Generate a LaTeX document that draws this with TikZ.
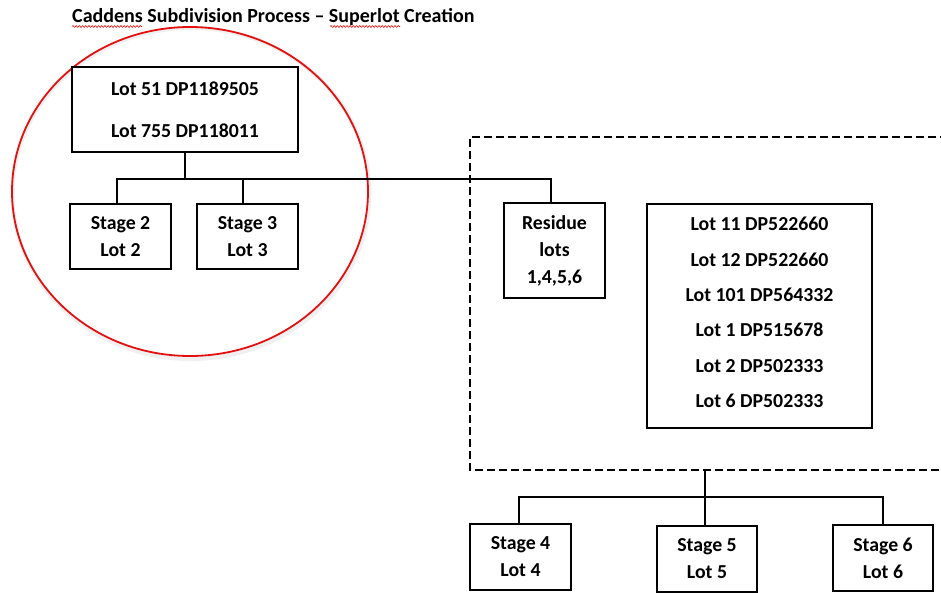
\documentclass[tikz,border=0pt]{standalone}
\usepackage{fontspec}
\setmainfont{Carlito}
\usetikzlibrary{shapes.geometric,decorations.pathmorphing}
\definecolor{circred}{RGB}{228,16,16}
\tikzset{
  box/.style={draw=black, line width=1.8pt, fill=white, inner sep=0pt, align=center,
    font=\bfseries\fontsize{19.8}{27}\selectfont},
  conn/.style={draw=black, line width=1.6pt},
  dashframe/.style={draw=black, line width=2.6pt, dash pattern=on 8pt off 4pt},
  spell/.style={draw=circred, line width=0.6pt, decorate,
    decoration={snake, amplitude=0.9pt, segment length=3.2pt}},
}
\begin{document}
\begin{tikzpicture}[x=1pt,y=-1pt]
\useasboundingbox (0,0) rectangle (941,592);
\fill[white] (0,0) rectangle (941,592);
% title
\node[anchor=base west, inner sep=0pt, font=\bfseries\fontsize{20}{22}\selectfont] (title) at (72,22.5)
  {Caddens Subdivision Process -- Superlot Creation};
\draw[spell] (72,26.5) -- (142,26.5);
\draw[spell] (330,26.5) -- (400,26.5);
% red circle with faint shadow
\node[ellipse, draw=black!6, line width=4pt, minimum width=357pt, minimum height=331pt, inner sep=0pt] (shadow) at (191,193.5) {};
\node[ellipse, draw=circred, line width=1.8pt, minimum width=356pt, minimum height=329pt, inner sep=0pt] (circ) at (190,191.5) {};
% dashed frame (right side runs off the picture)
\coordinate (dtr) at (948,137);
\coordinate (dtl) at (470,137);
\coordinate (dbl) at (470,470);
\coordinate (dbr) at (948,470);
\coordinate (dbot) at (705,470);
\draw[dashframe] (dtr) -- (dtl) -- (dbl) -- (dbr);
% boxes
\node[box, minimum width=226pt, minimum height=85pt, font=\bfseries\fontsize{19.8}{42}\selectfont] (top) at (185,109.5)
  {Lot 51 DP1189505\\Lot 755 DP118011};
\node[box, minimum width=101pt, minimum height=65pt] (s2) at (120.5,236.5) {Stage 2\\Lot 2};
\node[box, minimum width=101pt, minimum height=65pt] (s3) at (247.5,236.5) {Stage 3\\Lot 3};
\node[box, minimum width=101pt, minimum height=95pt] (res) at (554.5,250.5) {Residue\\lots\\1,4,5,6};
\node[box, minimum width=225pt, minimum height=224pt] (list) at (759.5,316) {};
\node[align=center, inner sep=0pt, font=\bfseries\fontsize{19.8}{35.4}\selectfont] (listtxt) at ([yshift=3.5pt]list.center)
  {Lot 11 DP522660\\Lot 12 DP522660\\Lot 101 DP564332\\Lot 1 DP515678\\Lot 2 DP502333\\Lot 6 DP502333};
\node[box, minimum width=101pt, minimum height=66pt] (s4) at (520.5,557) {Stage 4\\Lot 4};
\node[box, minimum width=100pt, minimum height=66pt] (s5) at (707,559) {Stage 5\\Lot 5};
\node[box, minimum width=100pt, minimum height=66pt] (s6) at (883,558) {Stage 6\\Lot 6};
% connectors
\coordinate (bus) at (0,179);
\coordinate (bus2) at (0,497);
\coordinate (s2t) at ([xshift=-3.5pt]s2.north);
\coordinate (s3t) at ([xshift=-4.5pt]s3.north);
\coordinate (rest) at ([xshift=-3.5pt]res.north);
\coordinate (s4t) at ([xshift=-1.5pt]s4.north);
\coordinate (s5t) at ([xshift=-2pt]s5.north);
\draw[conn] (top.south) -- (top.south |- bus);
\draw[conn] (s2t) |- (rest |- bus) -- (rest);
\draw[conn] (s3t) -- (s3t |- bus);
\draw[conn] (dbot) -- (s5t);
\draw[conn] (s4t) |- (s6.north |- bus2) -- (s6.north);
\end{tikzpicture}
\end{document}
